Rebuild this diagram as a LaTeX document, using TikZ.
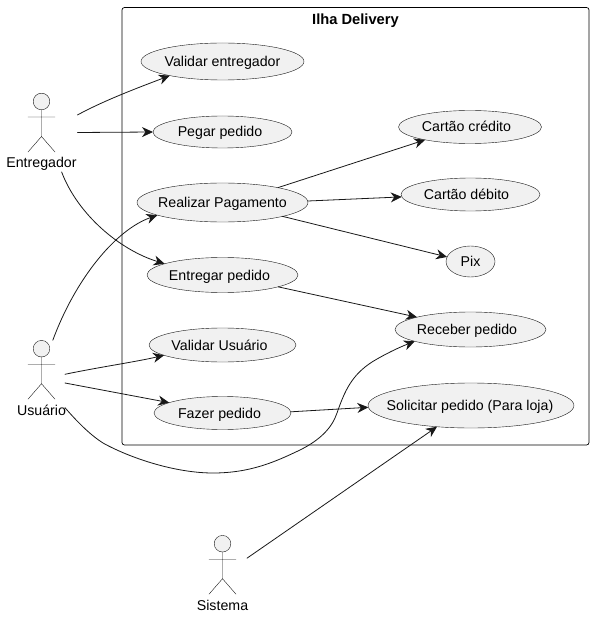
\documentclass[tikz,border=0pt]{standalone}
\usepackage{fontspec}
\setmainfont{Liberation Sans}
\usepackage{xcolor}
\usetikzlibrary{arrows.meta,shapes.geometric}
\definecolor{ucfill}{HTML}{F1F1F1}
\definecolor{ucline}{HTML}{181818}
\begin{document}
\begin{tikzpicture}[
	x=1pt,
	y=-1pt,
	line cap=round,
	line join=round,
	every node/.style={font=\fontsize{14.2}{16}\selectfont,text height=12pt,text depth=2pt},
	usecase/.style={ellipse,draw=ucline,line width=0.4pt,fill=ucfill,inner xsep=-45pt,inner ysep=0pt,outer sep=0pt},
	actorbox/.style={inner sep=0pt,outer sep=0pt,minimum height=79pt},
	actorline/.style={draw=ucline,line width=0.4pt},
	link/.style={draw=ucline,line width=0.8pt,-{Stealth[length=11pt,width=10pt,inset=3.5pt]}}
	]
	\useasboundingbox (0,0) rectangle (594,617);
	
	\draw[rounded corners=2.5pt,line width=0.7pt] (122,7.5) rectangle (589,445);
	\node[font=\fontsize{14.7}{16}\selectfont\bfseries] (title) at (355.5,19.5) {Ilha Delivery};
	
	\foreach \uc/\x/\y/\w/\h/\k/\txt in {
		valent/222.5/61.5/163/37/0/Validar entregador,
		pegar/222.5/132/139/32/-5/Pegar pedido,
		pagar/222.5/202.5/171/39/0/Realizar Pagamento,
		entregar/222.5/275/151/35/-6/Entregar pedido,
		valusu/222.5/345/147/34/-6/Validar Usuário,
		fazer/222.5/413/137/33/-6/Fazer pedido,
		credito/470/127/143/33/-7/Cartão crédito,
		debito/470.5/194.5/139/33/-8/Cartão débito,
		pix/470.5/261.5/49/31/0/Pix,
		receber/470.5/329.5/151/35/-7/Receber pedido,
		solicitar/471/405.5/206/45/-2/Solicitar pedido (Para loja)}
	\node[usecase,minimum width=\w pt,minimum height=\h pt] (\uc) at (\x,\y) {\kern\k pt\txt};
	
	\foreach \act/\x/\y/\w/\txt in {
		ent/41.5/101.5/72/Entregador,
		usu/41.5/348.7/47/Usuário,
		sis/222.5/543.7/49/Sistema}{
		\draw[actorline,fill=ucfill] (\x,\y) circle (8.3pt);
		\draw[actorline] (\x,\y+8.3) -- (\x,\y+35)
		(\x-13.5,\y+15.5) -- (\x+13.5,\y+15.5)
		(\x-13.5,\y+50.5) -- (\x,\y+35) -- (\x+13.5,\y+50.5);
		\node[actorbox,minimum width=\w pt] (\act) at (\x,\y+31) {};
		\node[inner sep=0pt] (\act label) at (\x,\y+61.5) {\txt};
	}
	
	\draw[link] (ent.26.6) .. controls (105,100) and (140,87) .. (valent.195.8);
	\draw[link] (ent.east) -- (pegar.west);
	\draw[link] (ent.-63.7) .. controls (78,215) and (120,250) .. (entregar.169.4);
	
	\draw[link] (usu.74) .. controls (75,280) and (115,230) .. (pagar.191);
	\draw[link] (usu.13.2) .. controls (100,367) and (135,362) .. (valusu.190.8);
	\draw[link] (usu.-8.5) -- (fazer.169.7);
	\draw[link] (usu.-50.5) .. controls (80,425) and (92,436) .. (103,443)
	.. controls (130,458) and (175,473) .. (213,473)
	.. controls (250,473) and (275,462) .. (300,450)
	.. controls (320,440) and (332,428) .. (337,413)
	.. controls (345,390) and (352,375) .. (372,362)
	.. controls (385,354) and (400,347) .. (receber.192.9);
	
	\draw[link] (pagar.15.9) -- (credito.196.8);
	\draw[link] (pagar.1.7) -- (debito.182);
	\draw[link] (pagar.-13.7) -- (pix.169);
	\draw[link] (entregar.-12.3) -- (receber.167.1);
	\draw[link] (fazer.1.7) -- (solicitar.181.4);
	\draw[link] (sis.34.8) -- (solicitar.212);
\end{tikzpicture}
\end{document}
